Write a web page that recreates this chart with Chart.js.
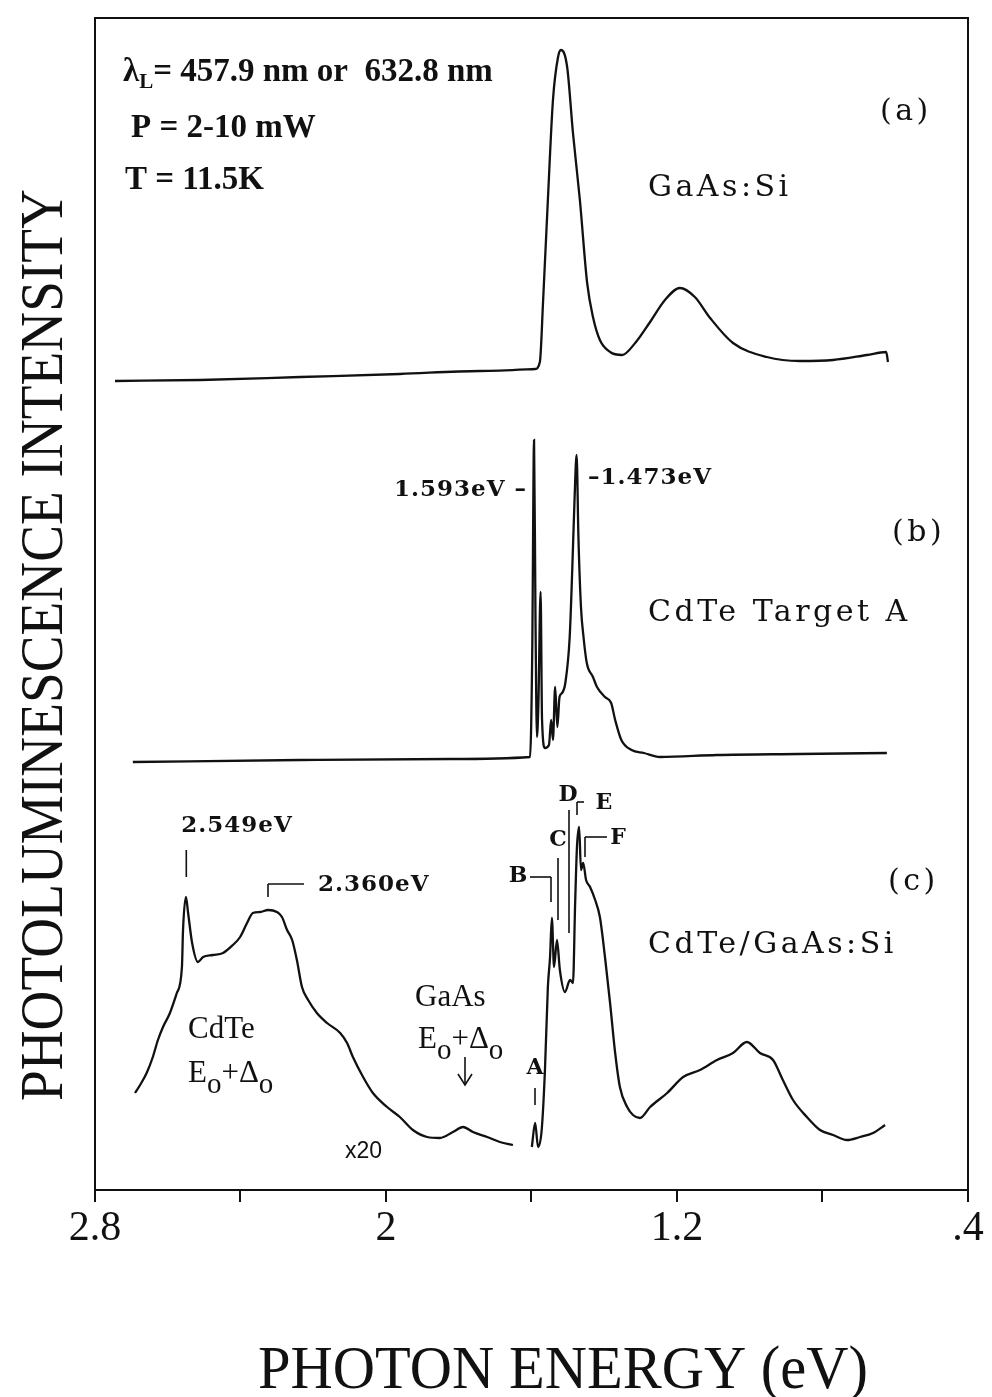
<!DOCTYPE html>
<html>
<head>
<meta charset="utf-8">
<script src="https://cdn.jsdelivr.net/npm/chart.js@4.4.1/dist/chart.umd.min.js"></script>
<style>
  html, body { margin: 0; padding: 0; background: #fff; }
  #wrap { width: 992px; height: 1397px; }
</style>
</head>
<body>
<div id="wrap"><canvas id="plChart" width="992" height="1397"></canvas></div>
<script>
// (a) GaAs:Si substrate
var gaasE = [2.745, 2.511, 2.236, 1.962, 1.742, 1.590, 1.577, 1.568, 1.555, 1.541, 1.527, 1.519, 1.502, 1.486, 1.467, 1.447, 1.431, 1.412, 1.384, 1.351, 1.315, 1.274, 1.233, 1.192, 1.151, 1.109, 1.046, 0.953, 0.862, 0.771, 0.678, 0.625, 0.620];
var gaasI = [80.9, 81.0, 81.3, 81.6, 81.9, 82.1, 82.8, 89.0, 99.0, 109.0, 113.3, 114.0, 112.3, 105.7, 99.0, 90.7, 87.3, 85.0, 83.8, 83.5, 84.7, 86.8, 89.0, 90.2, 89.3, 87.2, 84.7, 83.3, 82.9, 83.0, 83.5, 83.8, 82.8];

// (b) CdTe target A
var targetE = [2.696, 2.236, 1.824, 1.604, 1.598, 1.593, 1.589, 1.585, 1.581, 1.575, 1.571, 1.563, 1.552, 1.546, 1.541, 1.535, 1.529, 1.523, 1.516, 1.507, 1.495, 1.488, 1.482, 1.476, 1.471, 1.464, 1.457, 1.448, 1.431, 1.420, 1.398, 1.381, 1.370, 1.353, 1.325, 1.291, 1.247, 1.090, 0.865, 0.623];
var targetI = [42.8, 43.0, 43.1, 43.3, 53.7, 75.0, 57.0, 45.3, 48.7, 59.8, 47.0, 44.2, 44.5, 47.0, 45.0, 50.3, 46.3, 49.3, 49.7, 50.7, 55.3, 62.0, 68.7, 73.5, 65.3, 58.3, 55.3, 52.7, 51.3, 50.3, 49.3, 48.7, 47.0, 45.0, 44.0, 43.7, 43.3, 43.5, 43.6, 43.7];

// (c) CdTe/GaAs:Si film, high energy part (x20)
var filmHiE = [2.690, 2.676, 2.658, 2.641, 2.627, 2.613, 2.594, 2.575, 2.561, 2.558, 2.550, 2.544, 2.533, 2.517, 2.503, 2.476, 2.448, 2.421, 2.401, 2.382, 2.366, 2.346, 2.324, 2.300, 2.286, 2.272, 2.258, 2.245, 2.231, 2.214, 2.190, 2.162, 2.126, 2.107, 2.091, 2.063, 2.036, 1.997, 1.962, 1.926, 1.887, 1.852, 1.816, 1.788, 1.761, 1.722, 1.687, 1.651];
var filmHiI = [9.7, 10.5, 11.7, 13.3, 15.0, 16.3, 17.7, 19.7, 22.3, 26.0, 29.3, 27.7, 24.7, 22.8, 23.3, 23.5, 23.7, 24.5, 25.3, 26.7, 27.7, 27.8, 28.0, 27.8, 27.3, 26.0, 25.0, 23.0, 20.3, 19.0, 17.7, 16.7, 15.7, 14.7, 13.3, 11.3, 9.7, 8.3, 7.3, 6.0, 5.3, 5.2, 5.8, 6.3, 5.8, 5.3, 4.8, 4.5];

// (c) CdTe/GaAs:Si film, near band edge part
var filmLoE = [1.599, 1.590, 1.582, 1.572, 1.563, 1.555, 1.549, 1.544, 1.538, 1.530, 1.522, 1.508, 1.494, 1.486, 1.480, 1.475, 1.469, 1.464, 1.458, 1.450, 1.439, 1.425, 1.412, 1.398, 1.384, 1.370, 1.357, 1.337, 1.321, 1.302, 1.274, 1.227, 1.183, 1.137, 1.090, 1.046, 1.008, 0.972, 0.936, 0.909, 0.881, 0.843, 0.807, 0.771, 0.733, 0.697, 0.661, 0.628];
var filmLoI = [4.3, 6.7, 4.3, 6.0, 12.0, 20.3, 23.3, 27.2, 22.3, 25.0, 22.0, 19.8, 21.0, 20.7, 28.7, 34.3, 36.3, 32.0, 32.7, 31.0, 30.3, 29.0, 27.3, 23.3, 18.7, 13.7, 10.3, 8.3, 7.5, 7.2, 8.3, 9.7, 11.3, 12.0, 13.0, 13.7, 14.8, 13.7, 13.0, 11.0, 9.0, 7.3, 6.0, 5.5, 5.0, 5.3, 5.7, 6.5];

var xTicks = [2.8, 2.4, 2.0, 1.6, 1.2, 0.8, 0.4];

function toPoints(xs, ys) {
    var pts = [];
    for (var i = 0; i < xs.length; i++) {
        pts.push({x: xs[i], y: ys[i]});
    }
    return pts;
}

function trace(xs, ys) {
    return {
        data: toPoints(xs, ys),
        borderColor: '#111',
        borderWidth: 2.3,
        pointRadius: 0,
        showLine: true,
        fill: false,
        cubicInterpolationMode: 'monotone'
    };
}

function drawSub(ctx, parts, x, y, big, small) {
    // parts: [text, isSubscript]
    ctx.textAlign = 'left';
    for (var i = 0; i < parts.length; i++) {
        var p = parts[i];
        ctx.font = p[1] ? small : big;
        ctx.fillText(p[0], x, y + (p[1] ? 11 : 0));
        x += ctx.measureText(p[0]).width;
    }
}

var notesPlugin = {
    id: 'notes',
    afterDraw: function(chart) {
        var ctx = chart.ctx;
        var a = chart.chartArea;
        var xs = chart.scales.x;
        var ink = '#111';

        ctx.save();
        ctx.strokeStyle = ink;
        ctx.fillStyle = ink;
        ctx.lineWidth = 2;
        ctx.strokeRect(a.left, a.top, a.right - a.left, a.bottom - a.top);

        // axis titles
        ctx.textBaseline = 'alphabetic';
        ctx.textAlign = 'center';
        ctx.font = '62px "Liberation Serif"';
        ctx.fillText('PHOTON ENERGY (eV)', 563, 1388, 610);
        ctx.save();
        ctx.translate(62, 645);
        ctx.rotate(-Math.PI / 2);
        ctx.fillText('PHOTOLUMINESCENCE INTENSITY', 0, 0, 912);
        ctx.restore();

        ctx.textBaseline = 'middle';

        // conditions
        var cond = 'bold 33px "Liberation Serif"';
        drawSub(ctx, [['λ', 0], ['L', 1], ['= 457.9 nm or  632.8 nm', 0]], 123, 72, cond, 'bold 21px "Liberation Serif"');
        ctx.font = cond;
        ctx.fillText('P = 2-10 mW', 131, 128);
        ctx.fillText('T = 11.5K', 125, 180);

        // typewriter style labels
        var tw = '30px "DejaVu Serif"';
        ctx.font = tw;
        ctx.letterSpacing = '3.5px';
        ctx.textAlign = 'left';
        ctx.fillText('(a)', 880, 112);
        ctx.fillText('GaAs:Si', 648, 188);
        ctx.fillText('(b)', 892, 533);
        ctx.fillText('CdTe Target A', 648, 613);
        ctx.fillText('(c)', 888, 882);
        ctx.fillText('CdTe/GaAs:Si', 648, 945);

        ctx.font = 'bold 23px "DejaVu Serif"';
        ctx.letterSpacing = '1px';
        ctx.textAlign = 'right';
        ctx.fillText('1.593eV –', 527, 490);
        ctx.textAlign = 'left';
        ctx.fillText('–1.473eV', 588, 478);
        ctx.textAlign = 'center';
        ctx.fillText('2.549eV', 237, 826);
        ctx.textAlign = 'left';
        ctx.fillText('2.360eV', 318, 885);

        ctx.font = 'bold 22px "DejaVu Serif"';
        ctx.letterSpacing = '0px';
        ctx.textAlign = 'center';
        ctx.fillText('A', 535, 1068);
        ctx.fillText('B', 518, 876);
        ctx.fillText('C', 558, 840);
        ctx.fillText('D', 568, 795);
        ctx.fillText('E', 604, 803);
        ctx.fillText('F', 618, 838);

        // marker lines
        ctx.lineWidth = 1.6;
        function seg(x1, y1, x2, y2) {
            ctx.beginPath();
            ctx.moveTo(x1, y1);
            ctx.lineTo(x2, y2);
            ctx.stroke();
        }
        var px = function(e) { return xs.getPixelForValue(e); };
        seg(px(2.549), 850, px(2.549), 877);
        seg(268, 897, 268, 884); seg(268, 884, 304, 884);
        seg(535, 1088, 535, 1105);
        seg(530, 877, 551, 877); seg(551, 877, 551, 902);
        seg(558, 858, 558, 920);
        seg(569, 810, 569, 933);
        seg(577, 815, 577, 802); seg(577, 802, 584, 802);
        seg(585, 857, 585, 837); seg(585, 837, 607, 837);

        // E0 + delta0 labels
        var bk = '31px "Liberation Serif"';
        var bks = '29px "Liberation Serif"';
        ctx.font = bk;
        ctx.textAlign = 'left';
        ctx.fillText('CdTe', 188, 1030);
        drawSub(ctx, [['E', 0], ['o', 1], ['+Δ', 0], ['o', 1]], 188, 1074, bk, bks);
        ctx.font = bk;
        ctx.fillText('GaAs', 415, 998);
        drawSub(ctx, [['E', 0], ['o', 1], ['+Δ', 0], ['o', 1]], 418, 1040, bk, bks);

        // arrow
        seg(465, 1057, 465, 1084);
        ctx.beginPath();
        ctx.moveTo(458, 1074); ctx.lineTo(465, 1085); ctx.lineTo(472, 1074);
        ctx.stroke();

        ctx.font = '23px "Liberation Sans"';
        ctx.fillText('x20', 345, 1152);

        ctx.restore();
    }
};

var plChart = new Chart(document.getElementById('plChart').getContext('2d'), {
    type: 'scatter',
    data: {
        datasets: [
            trace(gaasE, gaasI),
            trace(targetE, targetI),
            trace(filmHiE, filmHiI),
            trace(filmLoE, filmLoI)
        ]
    },
    options: {
        responsive: false,
        animation: false,
        devicePixelRatio: 1,
        layout: { padding: { top: 18, right: 24, left: 0, bottom: 0 } },
        plugins: {
            legend: { display: false },
            tooltip: { enabled: false }
        },
        scales: {
            x: {
                type: 'linear',
                reverse: true,
                min: 0.4,
                max: 2.8,
                afterBuildTicks: function(scale) {
                    scale.ticks = xTicks.map(function(v) { return {value: v}; });
                },
                afterFit: function(scale) { scale.height = 207; },
                border: { display: false },
                grid: {
                    drawOnChartArea: false,
                    drawTicks: true,
                    tickLength: 12,
                    color: '#111',
                    lineWidth: 2
                },
                ticks: {
                    color: '#111',
                    padding: 2,
                    maxRotation: 0,
                    autoSkip: false,
                    font: { family: 'Liberation Serif', size: 42 },
                    callback: function(v) {
                        var t = Math.round(v * 10);
                        if (t % 8 !== 4) return '';
                        return String(t / 10).replace(/^0\./, '.');
                    }
                }
            },
            y: {
                type: 'linear',
                min: 0,
                max: 117.2,
                afterFit: function(scale) { scale.width = 95; },
                border: { display: false },
                grid: { display: false },
                ticks: { display: false }
            }
        }
    },
    plugins: [notesPlugin]
});
</script>
</body>
</html>
